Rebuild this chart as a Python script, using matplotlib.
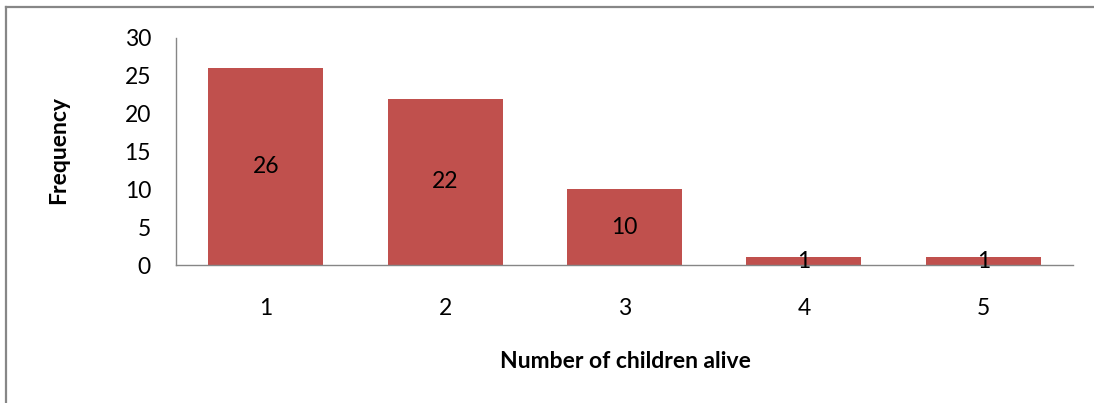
import matplotlib
matplotlib.use("Agg")
import matplotlib.pyplot as plt
from matplotlib.lines import Line2D

# children alive per respondent
categories = ["1", "2", "3", "4", "5"]
frequency = [26, 22, 10, 1, 1]
y_ticks = [0, 5, 10, 15, 20, 25, 30]

plt.rcParams["font.family"] = ["Lato", "DejaVu Sans"]

W, H = 1094, 403
fig = plt.figure(figsize=(W / 100, H / 100), dpi=100)
ax = fig.add_axes([176 / W, 1 - 265 / H, (1073 - 176) / W, (265 - 38) / H])

x = list(range(1, len(categories) + 1))
bars = ax.bar(x, frequency, width=0.64, color="#C0504D", zorder=2)

# value labels in the middle of each bar
for rect, val in zip(bars, frequency):
    ax.text(rect.get_x() + rect.get_width() / 2, val / 2, str(val),
            ha="center", va="center", fontsize=16.5, color="black", zorder=3)

ax.set_xlim(0.5, len(categories) + 0.5)
ax.set_ylim(0, 30)
ax.set_yticks(y_ticks)
ax.set_xticks(x)
ax.set_xticklabels(categories)
ax.tick_params(axis="both", length=0, labelsize=16.5, colors="black")
ax.tick_params(axis="x", pad=24)
ax.tick_params(axis="y", pad=18)

for side in ["top", "right"]:
    ax.spines[side].set_visible(False)
for side in ["left", "bottom"]:
    ax.spines[side].set_color("#868686")
    ax.spines[side].set_linewidth(1)

fig.text(625 / W, 1 - 361 / H, "Number of children alive", ha="center", va="center",
         fontsize=16.5, fontweight="bold")
fig.text(59 / W, 1 - 150 / H, "Frequency", ha="center", va="center",
         rotation=90, fontsize=16.5, fontweight="bold")

# outer chart frame (top and left edges)
fig.add_artist(Line2D([6 / W, 6 / W], [0, 1 - 7 / H], transform=fig.transFigure,
                      color="#878787", linewidth=1.6))
fig.add_artist(Line2D([6 / W, 1], [1 - 7 / H, 1 - 7 / H], transform=fig.transFigure,
                      color="#878787", linewidth=1.6))

fig.savefig("out.png", dpi=100)
